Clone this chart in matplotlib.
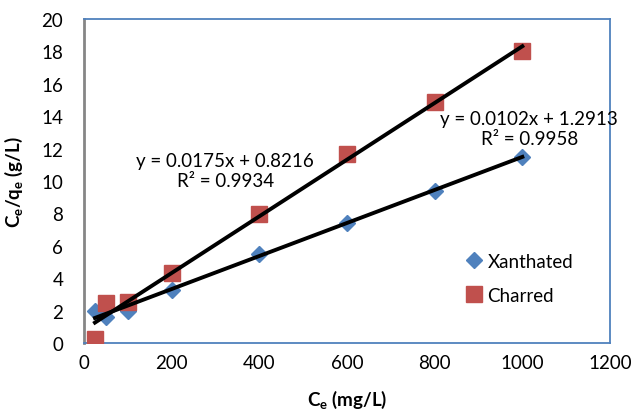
import numpy as np
import matplotlib
matplotlib.use("Agg")
import matplotlib.pyplot as plt

# data
ce = [25, 50, 100, 200, 400, 600, 800, 1000]
xanthated = [2.0, 1.6, 1.95, 3.3, 5.5, 7.4, 9.4, 11.5]
charred = [0.25, 2.5, 2.55, 4.35, 7.95, 11.7, 14.9, 18.0]

# trendline coefficients as printed on the chart
fit_x = (0.0102, 1.2913, 0.9958)
fit_c = (0.0175, 0.8216, 0.9934)

x_ticks = [0, 200, 400, 600, 800, 1000, 1200]
y_ticks = [0, 2, 4, 6, 8, 10, 12, 14, 16, 18, 20]

BLUE = '#4F81BD'
RED = '#C0504D'

plt.rcParams['font.family'] = ['Lato', 'DejaVu Sans']
plt.rcParams['mathtext.fontset'] = 'custom'
plt.rcParams['mathtext.rm'] = 'Lato'
plt.rcParams['mathtext.bf'] = 'Lato:bold'

fig = plt.figure(figsize=(6.33, 4.10), dpi=100)
ax = fig.add_axes([0.1327, 0.161, 0.831, 0.790])

ax.plot(ce, xanthated, 'D', color=BLUE, ms=8.5, label='Xanthated', zorder=3)
ax.plot(ce, charred, 's', color=RED, ms=11, label='Charred', zorder=3)

xs = np.array([ce[0], ce[-1]])
ax.plot(xs, fit_c[0] * xs + fit_c[1], color='black', lw=2.8, zorder=4)
ax.plot(xs, fit_x[0] * xs + fit_x[1], color='black', lw=2.8, zorder=4)

ax.text(322, 10.65, f'y = {fit_c[0]}x + {fit_c[1]}\nR² = {fit_c[2]}',
        ha='center', va='center', fontsize=13.5, linespacing=1.25)
ax.text(1016, 13.24, f'y = {fit_x[0]}x + {fit_x[1]}\nR² = {fit_x[2]}',
        ha='center', va='center', fontsize=13.5, linespacing=1.25)

ax.set_xlim(0, 1200)
ax.set_ylim(0, 20)
ax.set_xticks(x_ticks)
ax.set_yticks(y_ticks)
ax.tick_params(length=0, labelsize=13.5)
ax.tick_params(axis='x', pad=8)
ax.tick_params(axis='y', pad=15)

for s in ['top', 'right', 'bottom']:
    ax.spines[s].set_color(BLUE)
    ax.spines[s].set_linewidth(1.3)
ax.spines['left'].set_color('#868686')
ax.spines['left'].set_linewidth(2)

ax.set_xlabel('C$_\\mathbf{e}$ (mg/L)', fontsize=13.5, fontweight='bold', labelpad=12)
ax.set_ylabel('C$_\\mathbf{e}$/q$_\\mathbf{e}$ (g/L)', fontsize=13.5, fontweight='bold', labelpad=12)

ax.legend(loc='center left', bbox_to_anchor=(0.71, 0.2), frameon=False, fontsize=13.5,
          handlelength=0.8, handletextpad=0.3, labelspacing=0.9, borderpad=0)

fig.savefig('out.png', dpi=100)
